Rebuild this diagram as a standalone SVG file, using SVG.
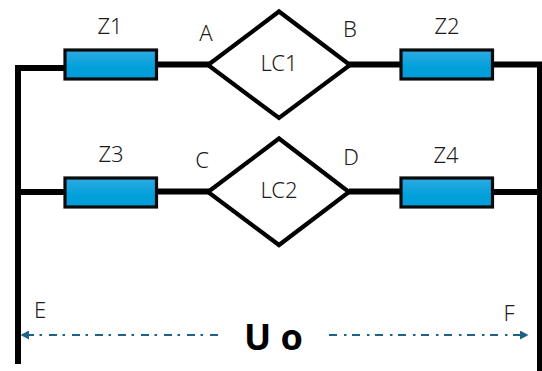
<svg xmlns="http://www.w3.org/2000/svg" width="542" height="371" viewBox="0 0 542 371">
<style>
.w{fill:none;stroke:#000;stroke-width:6;stroke-linecap:butt;stroke-linejoin:miter}
.d{fill:#fff;stroke:#000;stroke-width:4.200;stroke-miterlimit:10}
.z{fill:url(#g);stroke:#0a0a0a;stroke-width:3.200}
.t{font-family:"Noto Sans","Open Sans",sans-serif;font-size:22px;font-weight:300;fill:#1c1c1c;text-anchor:middle}
.u{font-family:"Noto Sans","Liberation Sans",sans-serif;font-size:36px;font-weight:700;fill:#000}
.a{fill:none;stroke:#1f6287;stroke-width:2;stroke-dasharray:8 7 2.500 5.500}
</style>
<defs>
<linearGradient id="g" x1="0" y1="0" x2="0" y2="1"><stop offset="0" stop-color="#2eaae2"/><stop offset="0.6" stop-color="#02a0da"/><stop offset="1" stop-color="#029cd8"/></linearGradient>
<marker id="m" markerUnits="userSpaceOnUse" markerWidth="9" markerHeight="9" refX="8" refY="4.500" orient="auto-start-reverse"><path d="M0 0L8.500 4.500L0 9Z" fill="#1f6287"/></marker>
</defs>
<g id="connectors">
<path class="w" d="M18 364V68H66M156 64.500H210M349 64.500H402M492 64.500H540V371"/>
<path class="w" d="M18 192H66M156 191.500H210M349 191.500H402M492 192H540"/>
<path class="a" d="M218 335H21" marker-end="url(#m)"/>
<path class="a" d="M329 335H528" marker-end="url(#m)"/>
</g>
<g id="Z1"><rect class="z" x="65" y="50" width="91.500" height="29"/><text class="t" x="110" y="33.500">Z1</text></g>
<g id="Z2"><rect class="z" x="401" y="50" width="91.500" height="29"/><text class="t" x="447" y="33.500">Z2</text></g>
<g id="Z3"><rect class="z" x="65" y="178" width="91.500" height="29"/><text class="t" x="111" y="162">Z3</text></g>
<g id="Z4"><rect class="z" x="401" y="178" width="91.500" height="29"/><text class="t" x="446" y="163">Z4</text></g>
<g id="LC1"><path class="d" d="M208 65L279 11.500L350 65L279 118Z"/><text class="t" x="279" y="71">LC1</text></g>
<g id="LC2"><path class="d" d="M208 192L279 138.500L349 192L279 245Z"/><text class="t" x="279" y="198">LC2</text></g>
<g id="A"><text class="t" x="206" y="41">A</text></g>
<g id="B"><text class="t" x="350" y="37">B</text></g>
<g id="C"><text class="t" x="202" y="168">C</text></g>
<g id="D"><text class="t" x="351" y="165">D</text></g>
<g id="E"><text class="t" x="40" y="318">E</text></g>
<g id="F"><text class="t" x="509" y="321">F</text></g>
<g id="Uo"><text class="u" x="244" y="350">U o</text></g>
</svg>
